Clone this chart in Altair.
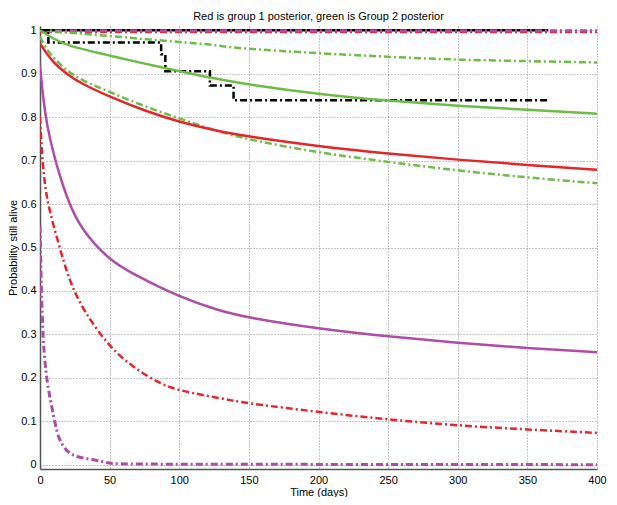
import altair as alt
import pandas as pd

# ---- data ----
red_t = [0, 5, 10, 20, 30, 50, 75, 100, 125, 150, 200, 250, 300, 350, 400]
red_v = [0.970, 0.945, 0.925, 0.897, 0.877, 0.847, 0.815, 0.789, 0.770, 0.755, 0.733, 0.716, 0.702, 0.690, 0.679]

green_t = [0, 10, 20, 50, 67, 100, 125, 150, 200, 250, 300, 350, 400]
green_v = [1.000, 0.980, 0.964, 0.942, 0.929, 0.906, 0.889, 0.875, 0.853, 0.838, 0.826, 0.817, 0.808]

green_lo_t = [0, 5, 10, 20, 30, 50, 75, 100, 125, 150, 200, 250, 300, 350, 400]
green_lo_v = [0.985, 0.955, 0.935, 0.905, 0.885, 0.858, 0.825, 0.797, 0.770, 0.748, 0.718, 0.697, 0.677, 0.661, 0.648]

green_hi_t = [0, 50, 100, 125, 135, 206, 256, 301, 352, 400]
green_hi_v = [1.000, 0.987, 0.973, 0.967, 0.960, 0.946, 0.938, 0.932, 0.929, 0.926]

mag_t = [0, 2, 5, 10, 20, 30, 50, 67, 100, 128, 150, 200, 250, 300, 350, 400]
mag_v = [0.920, 0.850, 0.780, 0.710, 0.605, 0.540, 0.470, 0.439, 0.386, 0.355, 0.338, 0.313, 0.295, 0.280, 0.268, 0.259]

red_lo_t = [0, 1, 3, 6, 14, 21, 31, 50, 67, 86, 100, 119, 139, 150, 200, 250, 300, 350, 400]
red_lo_v = [0.800, 0.735, 0.654, 0.593, 0.501, 0.424, 0.355, 0.270, 0.224, 0.186, 0.171, 0.159, 0.147, 0.141, 0.121, 0.104, 0.090, 0.081, 0.073]

mag_lo_t = [0, 1.7, 5, 10, 13.6, 23, 38, 50, 60, 400]
mag_lo_v = [0.550, 0.290, 0.186, 0.109, 0.051, 0.017, 0.013, 0.002, 0.001, 0.0]

red_hi_t = [0, 400]
red_hi_v = [0.997, 0.997]

mag_hi_t = [0, 400]
mag_hi_v = [0.999, 0.999]

km1_t = [0, 365]
km1_v = [1.0, 1.0]

km2_t = [0, 6, 87, 90, 122, 139, 365]
km2_v = [1.0, 0.972, 0.945, 0.906, 0.873, 0.839, 0.839]

x_ticks = [0, 50, 100, 150, 200, 250, 300, 350, 400]
y_ticks = [0, 0.1, 0.2, 0.3, 0.4, 0.5, 0.6, 0.7, 0.8, 0.9, 1.0]

RED = "#e4262b"
GREEN = "#6cbd45"
MAG = "#b04ca8"
BLACK = "#000000"
DASHDOT = [7, 3, 2, 3]

x_scale = alt.Scale(domain=[0, 400], nice=False, zero=False)
y_scale = alt.Scale(domain=[-0.01, 1.01], nice=False, zero=False)

x_axis = alt.Axis(values=x_ticks, title="Time (days)", grid=True,
                  labelPadding=5, titlePadding=1, labelFlush=False)
y_axis = alt.Axis(values=y_ticks, title="Probability still alive", grid=True,
                  format="~g", labelPadding=4, titlePadding=2, labelFlush=False)


def layer(ts, vs, color, dash=None, width=2.5, step=False):
    df = pd.DataFrame({"t": ts, "v": vs})
    kw = dict(color=color, strokeWidth=width, clip=True)
    if dash:
        kw["strokeDash"] = dash
    kw["interpolate"] = "step-after" if step else "basis"
    return alt.Chart(df).mark_line(**kw).encode(
        x=alt.X("t:Q", scale=x_scale, axis=x_axis),
        y=alt.Y("v:Q", scale=y_scale, axis=y_axis),
    )


layers = [
    layer(red_hi_t, red_hi_v, RED, DASHDOT, 3),
    layer(km1_t, km1_v, BLACK, None, 2.5, step=True),
    layer(mag_hi_t, mag_hi_v, MAG, DASHDOT, 3),
    layer(green_hi_t, green_hi_v, GREEN, DASHDOT, 2.5),
    layer(km2_t, km2_v, BLACK, DASHDOT, 2.5, step=True),
    layer(green_t, green_v, GREEN, None, 2.5),
    layer(green_lo_t, green_lo_v, GREEN, DASHDOT, 2.5),
    layer(red_t, red_v, RED, None, 2.5),
    layer(mag_t, mag_v, MAG, None, 2.5),
    layer(red_lo_t, red_lo_v, RED, DASHDOT, 2.5),
    layer(mag_lo_t, mag_lo_v, MAG, DASHDOT, 3),
]

FONT = "Liberation Sans"

chart = alt.layer(*layers).properties(
    width=557,
    height=443,
    autosize=alt.AutoSizeParams(type="none"),
    padding={"left": 32, "top": 18, "right": 12, "bottom": 28},
    title=alt.TitleParams(
        "Red is group 1 posterior, green is Group 2 posterior",
        font=FONT, fontSize=11, fontWeight="normal", color="#000", offset=2,
    ),
).configure_view(
    stroke=None
).configure_axis(
    labelFont=FONT, labelFontSize=11, labelColor="#000",
    titleFont=FONT, titleFontSize=11, titleFontWeight="normal", titleColor="#000",
    gridColor="#8a8a8a", gridDash=[1, 2], gridWidth=1, gridOpacity=1,
    domainColor="#555", domainWidth=1.5,
    ticks=False,
)

chart.save("out.html", embed_options={"renderer": "svg", "actions": False})
